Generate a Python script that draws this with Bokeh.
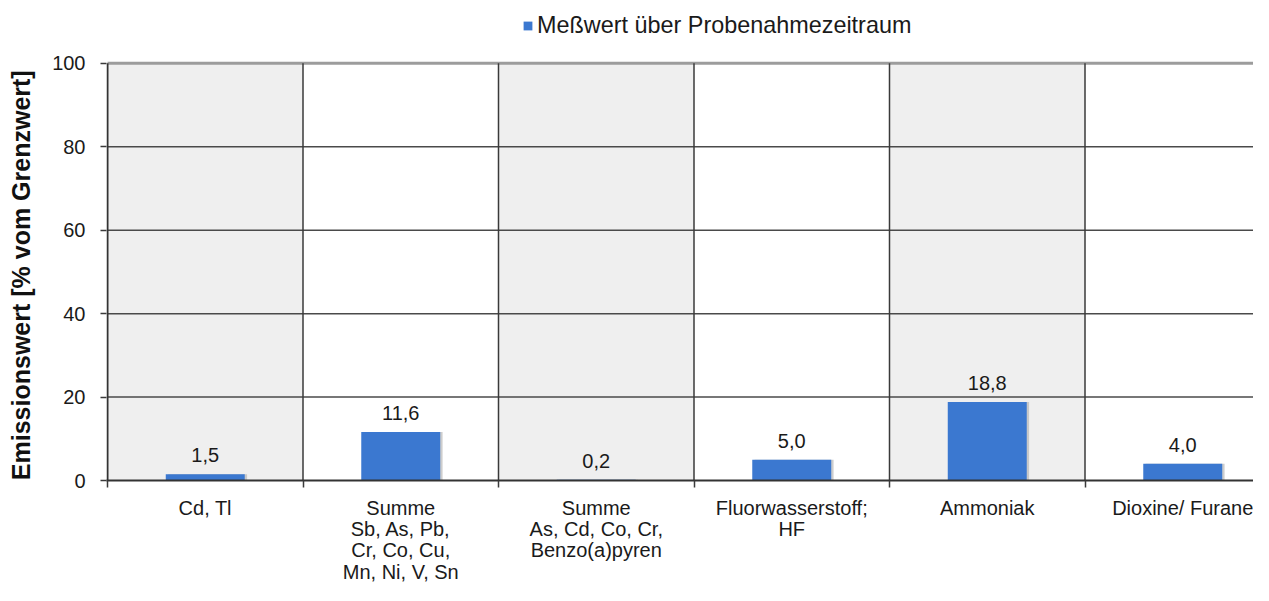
from bokeh.plotting import figure
from bokeh.models import (Range1d, FixedTicker, ColumnDataSource, LabelSet, Legend, LegendItem)
from bokeh.core.properties import value
from bokeh.embed import file_html
from bokeh.resources import INLINE

categories = ["Cd, Tl",
              "Summe\nSb, As, Pb,\nCr, Co, Cu,\nMn, Ni, V, Sn",
              "Summe\nAs, Cd, Co, Cr,\nBenzo(a)pyren",
              "Fluorwasserstoff;\nHF",
              "Ammoniak",
              "Dioxine/ Furane"]
values = [1.5, 11.6, 0.2, 5.0, 18.8, 4.0]
value_labels = ["1,5", "11,6", "0,2", "5,0", "18,8", "4,0"]
y_ticks = [0, 20, 40, 60, 80, 100]
series_name = "Meßwert über Probenahmezeitraum"
y_title = "Emissionswert [% vom Grenzwert]"

FONT = "Liberation Sans"
n = len(categories)
centers = [i + 0.5 for i in range(n)]

W, H = 1253, 585
LEFT, BOTTOM = 106, 104
PX_X = 195.5   # pixels per category
PX_Y = 4.18    # pixels per percent
frame_w = W - LEFT
frame_h = H - BOTTOM
x0 = -1 / PX_X

p = figure(width=W, height=H, output_backend="svg", toolbar_location=None,
           x_range=Range1d(x0, x0 + frame_w / PX_X), y_range=Range1d(0, frame_h / PX_Y),
           min_border_left=LEFT, min_border_right=0, min_border_top=0, min_border_bottom=BOTTOM,
           background_fill_color="white", border_fill_color="white")
p.outline_line_color = None
p.xgrid.visible = False
p.ygrid.visible = False

# alternating bands
band_left = [i for i in range(n) if i % 2 == 0]
p.quad(left=band_left, right=[b + 1 for b in band_left], bottom=0, top=100,
       fill_color="#efefef", line_color=None)

# horizontal grid lines
inner = [t for t in y_ticks if 0 < t < 100]
p.segment(x0=[0] * len(inner), x1=[n] * len(inner), y0=inner, y1=inner,
          line_color="#4a4a4a", line_width=1.5)
p.segment(x0=[0], x1=[n], y0=[100], y1=[100], line_color="#9c9c9c", line_width=3)
# vertical category boundaries
bounds = list(range(1, n))
p.segment(x0=bounds, x1=bounds, y0=[0] * len(bounds), y1=[100] * len(bounds),
          line_color="#3a3a3a", line_width=1.5)
# value axis line (only up to 100)
p.segment(x0=[0], x1=[0], y0=[0], y1=[100], line_color="#333333", line_width=2)

src = ColumnDataSource(dict(x=centers, top=values, lab=value_labels,
                            xs=[c + 0.012 for c in centers]))
# soft shadow
p.vbar(x="xs", top="top", width=0.404, source=src, fill_color="#b8b8b8",
       fill_alpha=0.7, line_color=None)
bars = p.vbar(x="x", top="top", width=0.404, source=src, fill_color="#3b78d0",
              line_color=None)

labels = LabelSet(x="x", y="top", text="lab", source=src, text_align="center",
                  text_baseline="alphabetic", y_offset=12, text_font=value(FONT),
                  text_font_size="20px", text_color="#1a1a1a")
p.add_layout(labels)

legend = Legend(items=[LegendItem(label=series_name, renderers=[bars])],
                location=(416, 441), orientation="horizontal",
                glyph_width=11, glyph_height=11, label_height=20, label_standoff=4,
                padding=0, margin=0, border_line_color=None, background_fill_alpha=0,
                label_text_font=FONT, label_text_font_size="23.4px",
                label_text_color="#1a1a1a")
p.add_layout(legend, "center")

# x axis
p.xaxis.ticker = FixedTicker(ticks=centers, minor_ticks=list(range(n)))
p.xaxis.major_label_overrides = {c: lab for c, lab in zip(centers, categories)}
p.xaxis.major_tick_out = 0
p.xaxis.major_tick_in = 0
p.xaxis.minor_tick_out = 7
p.xaxis.minor_tick_in = 0
p.xaxis.minor_tick_line_color = "#3a3a3a"
p.xaxis.minor_tick_line_width = 1.5
p.xaxis.axis_line_color = "#333333"
p.xaxis.axis_line_width = 2
p.xaxis.major_label_text_font = FONT
p.xaxis.major_label_text_font_size = "20px"
p.xaxis.major_label_text_color = "#1a1a1a"
p.xaxis.major_label_text_line_height = 0.97
p.xaxis.major_label_standoff = 9

# y axis
p.yaxis.ticker = FixedTicker(ticks=y_ticks, minor_ticks=[])
p.yaxis.major_tick_out = 6
p.yaxis.major_tick_in = 0
p.yaxis.major_tick_line_color = "#3a3a3a"
p.yaxis.major_tick_line_width = 1.5
p.yaxis.axis_line_color = None
p.yaxis.major_label_text_font = FONT
p.yaxis.major_label_text_font_size = "20px"
p.yaxis.major_label_text_color = "#1a1a1a"
p.yaxis.major_label_standoff = 15
# trailing no-break spaces move the centred title down to the 0..100 span
p.yaxis.axis_label = y_title + "\u00a0" * 10
p.yaxis.axis_label_text_font = FONT
p.yaxis.axis_label_text_font_size = "25px"
p.yaxis.axis_label_text_font_style = "bold"
p.yaxis.axis_label_text_color = "#111111"
p.yaxis.axis_label_standoff = 14

open("out.html", "w").write(file_html(p, INLINE))
